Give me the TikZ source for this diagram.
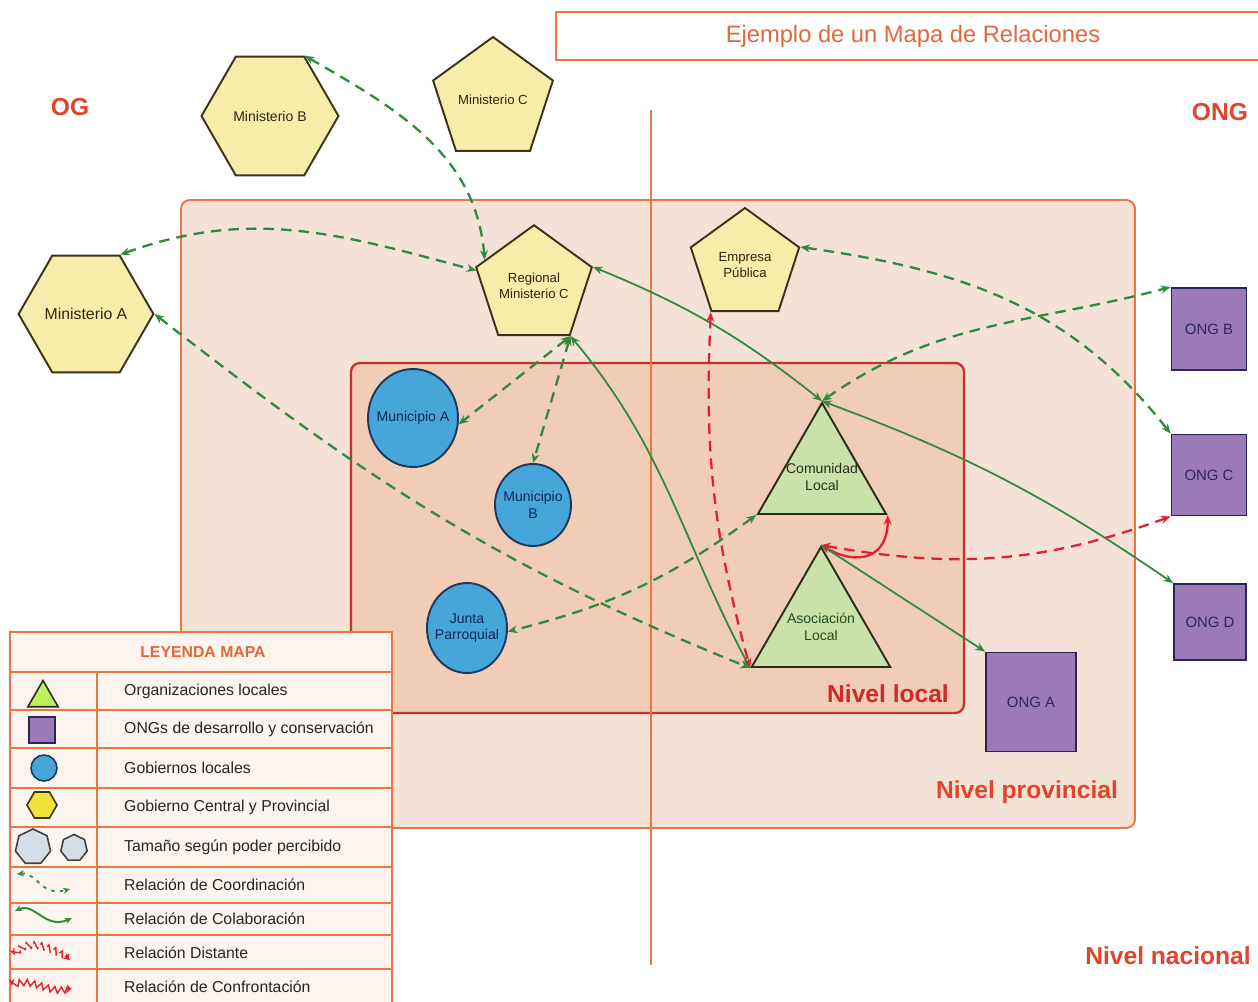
\documentclass[tikz,border=0pt]{standalone}
\usepackage{fontspec}
\setmainfont{Liberation Sans}
\usetikzlibrary{shapes, arrows.meta, decorations.pathmorphing}
\definecolor{govyellow}{HTML}{F6EDAA}
\definecolor{govbright}{HTML}{F2E23C}
\definecolor{govline}{HTML}{3B3418}
\definecolor{govtext}{HTML}{2A2812}
\definecolor{muniblue}{HTML}{46A6DA}
\definecolor{munline}{HTML}{1D3A5C}
\definecolor{munitext}{HTML}{10275A}
\definecolor{locgreen}{HTML}{C8E2A9}
\definecolor{locline}{HTML}{2D2C1A}
\definecolor{loctext}{HTML}{244A1C}
\definecolor{ongpurple}{HTML}{9B7AB9}
\definecolor{ongline}{HTML}{2B2650}
\definecolor{ongtext}{HTML}{2C2660}
\definecolor{relgreen}{HTML}{2F8A3A}
\definecolor{relred}{HTML}{E2202E}
\definecolor{lineorange}{HTML}{E9773F}
\definecolor{provfill}{HTML}{F4E2D6}
\definecolor{locfill}{HTML}{F1CCB6}
\definecolor{locborder}{HTML}{C7302B}
\definecolor{titleorange}{HTML}{E2683A}
\definecolor{labelred}{HTML}{E2432A}
\definecolor{legfill}{HTML}{FCF4EF}
\definecolor{greyfill}{HTML}{D5DDE6}
\tikzstyle{gobhex} = [regular polygon, regular polygon sides=6, draw=govline, line width=1.1pt, fill=govyellow, inner sep=0pt, text=govtext, font=\fontsize{8}{9.5}\selectfont]
\tikzstyle{gobpent} = [gobhex, regular polygon sides=5]
\tikzstyle{muni} = [ellipse, draw=munline, line width=1.1pt, fill=muniblue, inner sep=-4pt, text=munitext, font=\fontsize{8}{9.5}\selectfont]
\tikzstyle{orgloc} = [regular polygon, regular polygon sides=3, draw=locline, line width=1.1pt, fill=locgreen, inner sep=-6pt, text=loctext, font=\fontsize{8}{9.5}\selectfont]
\tikzstyle{ong} = [rectangle, draw=ongline, line width=1.1pt, fill=ongpurple, text=ongtext, font=\fontsize{8.5}{10}\selectfont]
\tikzstyle{coordrel} = [draw=relgreen, line width=1.3pt, dash pattern=on 6pt off 4pt, <->, >={Stealth[length=5.5pt, width=4.5pt]}]
\tikzstyle{colabrel} = [draw=relgreen, line width=1pt, <->, >={Stealth[length=5.5pt, width=4.5pt]}]
\tikzstyle{distrel} = [draw=relred, line width=1.3pt, dash pattern=on 6pt off 4pt, <->, >={Stealth[length=5.5pt, width=4.5pt]}]
\tikzstyle{confrel} = [draw=relred, line width=1.3pt, <->, >={Stealth[length=5.5pt, width=4.5pt]}]
\tikzstyle{nivel} = [font=\fontsize{14}{16}\selectfont\bfseries, text=labelred]
\tikzstyle{legline} = [draw=lineorange, line width=1.1pt]
\tikzstyle{legtext} = [anchor=west, font=\fontsize{9}{10}\selectfont, text=black!85]

\begin{document}
\begin{tikzpicture}[x=0.02cm, y=0.02cm, align=center]
    \fill [white] (0,0) rectangle (1258,-1001);
    \useasboundingbox (0,0) rectangle (1258,-1001);

    \node (title) [draw=lineorange, line width=1.1pt, fill=white, minimum width=14.3cm, minimum height=0.96cm, text=titleorange, font=\fontsize{13.5}{16}\selectfont] at (913,-36) {Ejemplo de un Mapa de Relaciones};

    \draw [lineorange, line width=1.1pt, fill=provfill, rounded corners=5pt] (181,-200) rectangle (1135,-828);
    \draw [locborder, line width=1.3pt, fill=locfill, rounded corners=5pt] (351,-363) rectangle (964,-713);
    \draw [lineorange, line width=1.1pt] (651,-110) -- (651,-965);

    \node (og) [nivel] at (70,-107) {OG};
    \node (ongzona) [nivel] at (1220,-112) {ONG};
    \node (nlocal) [nivel, text=locborder!90!red] at (888,-694) {Nivel local};
    \node (nprov) [nivel] at (1027,-792) {Nivel provincial};
    \node (nnac) [nivel] at (1168,-956) {Nivel nacional};

    \node (minB) [gobhex, minimum size=2.74cm] at (270,-116) {Ministerio B};
    \node (minC) [gobpent, minimum size=2.52cm, font=\fontsize{7.5}{9}\selectfont] at (493,-100) {Ministerio C};
    \node (minA) [gobhex, minimum size=2.4cm, font=\fontsize{9}{10}\selectfont] at (86,-314) {Ministerio A};
    \node (regC) [gobpent, minimum size=2.28cm, font=\fontsize{7.5}{9}\selectfont] at (534,-286) {Regional\\Ministerio C};
    \node (empresa) [gobpent, minimum size=2.28cm, font=\fontsize{7.5}{9}\selectfont] at (745,-265) {Empresa\\Pública};

    \node (munA) [muni, minimum width=1.8cm, minimum height=1.96cm] at (413,-418) {Municipio A};
    \node (munB) [muni, minimum width=1.52cm, minimum height=1.64cm] at (533,-505) {Municipio\\B};
    \node (junta) [muni, minimum width=1.6cm, minimum height=1.8cm] at (467,-628) {Junta\\Parroquial};

    \node (comunidad) [orgloc, minimum size=2.96cm, text=locline] at (822,-477) {Comunidad\\Local};
    \node (asoc) [orgloc, minimum size=3.2cm] at (821,-627) {Asociación\\Local};

    \node (ongB) [ong, minimum width=1.5cm, minimum height=1.64cm] at (1209,-329) {ONG B};
    \node (ongC) [ong, minimum width=1.5cm, minimum height=1.62cm] at (1209,-475) {ONG C};
    \node (ongD) [ong, minimum width=1.44cm, minimum height=1.52cm] at (1210,-622) {ONG D};
    \node (ongA) [ong, minimum width=1.8cm, minimum height=1.98cm] at (1031,-702) {ONG A};

    \draw [coordrel] (minB.60) to[out=-30, in=95] (regC.152);
    \draw [coordrel] (minA.60) to[out=20, in=165] (regC.165);
    \draw [coordrel] (minA.0) to[out=-38, in=158] (asoc.210);
    \draw [coordrel] (regC.306) -- (munA.-8);
    \draw [coordrel] (regC.306) -- (munB.90);
    \draw [colabrel] (regC.306) to[out=-50, in=118] (asoc.210);
    \draw [colabrel] (regC.18) to[bend left=8] (comunidad.90);
    \draw [coordrel] (empresa.18) to[out=-8, in=128] (ongC.north west);
    \draw [coordrel] (comunidad.90) to[out=35, in=195] (ongB.north west);
    \draw [colabrel] (comunidad.90) to[bend left=7] (ongD.north west);
    \draw [coordrel] (comunidad.210) to[bend left=11] (junta.-5);
    \draw [distrel] (empresa.234) to[bend right=9] (asoc.210);
    \draw [confrel] (asoc.90) to[out=-30, in=-90, looseness=1.5] (comunidad.330);
    \draw [distrel] (asoc.90) to[out=-10, in=200] (ongC.south west);
    \draw [colabrel, ->] (asoc.90) -- (ongA.north west);

    \draw [legline, fill=legfill] (10,-632) rectangle (392,-1012);
    \foreach \y in {672,710,748,788,827,867,903,935,969}
        \draw [legline] (10,-\y) -- (392,-\y);
    \draw [legline] (97,-672) -- (97,-1012);
    \node (leytitle) [font=\fontsize{9}{10}\selectfont\bfseries, text=titleorange] at (203,-652) {LEYENDA MAPA};
    \foreach \y/\t [count=\i] in {691/Organizaciones locales, 729/ONGs de desarrollo y conservación, 768/Gobiernos locales, 807/Gobierno Central y Provincial, 847/Tamaño según poder percibido, 885/Relación de Coordinación, 919/Relación de Colaboración, 953/Relación Distante, 987/Relación de Confrontación}
        \node (leyenda\i) [legtext] at (118,-\y) {\t};

    \node (icotri) [orgloc, minimum size=0.7cm, line width=0.9pt, fill=locgreen!80!green!70!yellow] at (43,-698) {};
    \node (icoong) [ong, minimum size=0.52cm, line width=0.9pt] at (42,-730) {};
    \node (icomuni) [muni, circle, minimum size=0.52cm, line width=0.9pt] at (44,-768) {};
    \node (icogob) [gobhex, minimum size=0.6cm, line width=0.9pt, fill=govbright] at (42,-805) {};
    \node (icogrande) [regular polygon, regular polygon sides=7, draw=black!75, line width=0.9pt, fill=greyfill, minimum size=0.72cm] at (33,-847) {};
    \node (icopeque) [regular polygon, regular polygon sides=7, draw=black!75, line width=0.9pt, fill=greyfill, minimum size=0.54cm] at (74,-848) {};

    \coordinate (coorda) at (17,-874);
    \coordinate (coordb) at (70,-889);
    \coordinate (colaba) at (15,-911);
    \coordinate (colabb) at (72,-918);
    \coordinate (dista) at (15,-955);
    \coordinate (distb) at (70,-960);
    \coordinate (confa) at (12,-986);
    \coordinate (confb) at (72,-988);
    \draw [coordrel, line width=1pt, dash pattern=on 2pt off 3pt, >={Stealth[length=4pt, width=3.5pt]}] (coorda) .. controls (38,-872) and (40,-897) .. (coordb);
    \draw [colabrel, line width=1.1pt, >={Stealth[length=4pt, width=3.5pt]}] (colaba) .. controls (35,-902) and (45,-930) .. (colabb);
    \draw [distrel, line width=0.8pt, dash pattern=on 6pt off 2pt, >={Stealth[length=4pt, width=3.5pt]}, decorate, decoration={zigzag, segment length=4pt, amplitude=1.8pt}] (dista) .. controls (25,-938) and (50,-945) .. (distb);
    \draw [confrel, line width=0.8pt, >={Stealth[length=4pt, width=3.5pt]}, decorate, decoration={zigzag, segment length=4pt, amplitude=1.8pt}] (confa) .. controls (30,-974) and (50,-997) .. (confb);
\end{tikzpicture}
\end{document}
